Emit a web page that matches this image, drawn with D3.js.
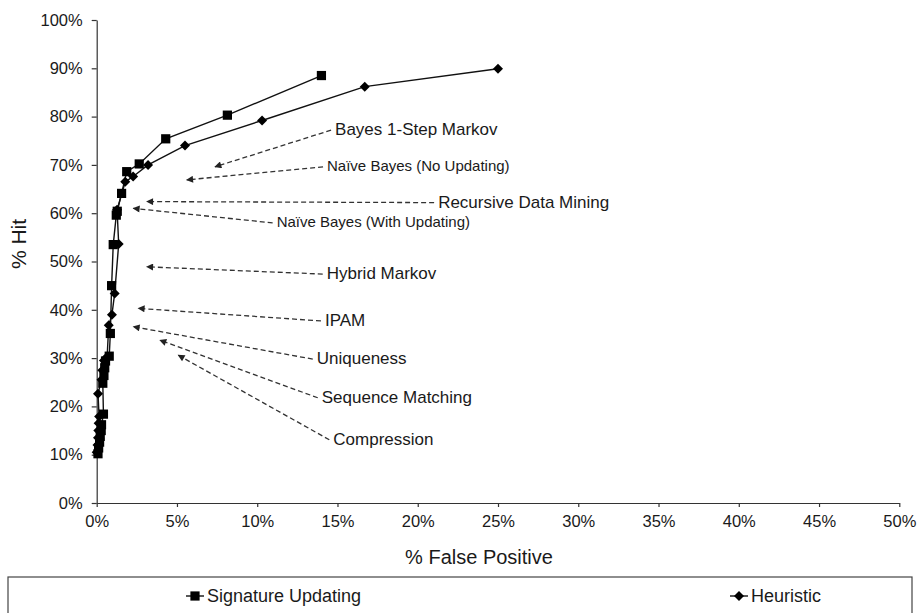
<!DOCTYPE html>
<html>
<head>
<meta charset="utf-8">
<script src="https://cdn.jsdelivr.net/npm/d3@7"></script>
<style>
  body { margin: 0; background: #fff; }
  svg text { font-family: "Liberation Sans", Arial, sans-serif; fill: #1a1a1a; }
</style>
</head>
<body>
<svg id="chart" width="918" height="613"></svg>
<script>
// % false positive / % hit
var sigX = [0.08, 0.12, 0.18, 0.22, 0.28, 0.30, 0.42, 0.38, 0.45, 0.50, 0.55, 0.78, 0.85, 0.93, 1.03, 1.22, 1.28, 1.55, 1.87, 2.65, 4.30, 8.14, 14.0];
var sigY = [10.2, 11.4, 12.6, 13.8, 15.0, 16.2, 18.4, 24.8, 26.4, 28.0, 29.4, 30.4, 35.1, 45.0, 53.5, 59.6, 60.4, 64.1, 68.6, 70.2, 75.4, 80.3, 88.5];

var heurX = [0.00, 0.05, 0.08, 0.10, 0.12, 0.15, 0.08, 0.30, 0.35, 0.45, 0.65, 0.75, 0.95, 1.12, 1.37, 1.27, 1.78, 2.27, 3.20, 5.50, 10.3, 16.7, 25.0];
var heurY = [10.5, 12.0, 13.5, 15.0, 16.5, 17.9, 22.6, 25.5, 27.5, 29.5, 30.3, 36.8, 39.0, 43.4, 53.6, 60.7, 66.5, 67.6, 70.0, 74.0, 79.2, 86.2, 89.9];

var seriesNames = ["Signature Updating", "Heuristic"];

var xTicks = [0, 5, 10, 15, 20, 25, 30, 35, 40, 45, 50];
var yTicks = [0, 10, 20, 30, 40, 50, 60, 70, 80, 90, 100];

// callouts: label, where the text sits, where the arrow points (data units)
var annoLabels = ["Bayes 1-Step Markov", "Naïve Bayes (No Updating)", "Recursive Data Mining", "Naïve Bayes (With Updating)", "Hybrid Markov", "IPAM", "Uniqueness", "Sequence Matching", "Compression"];
var annoTextX = [14.85, 14.35, 21.27, 11.21, 14.33, 14.22, 13.71, 14.02, 14.74];
var annoTextY = [77.4, 69.8, 62.4, 58.2, 47.6, 37.9, 30.0, 22.0, 13.3];
var annoTipX = [7.37, 5.61, 3.12, 2.28, 3.12, 2.59, 2.28, 3.94, 5.08];
var annoTipY = [69.6, 66.9, 62.4, 61.0, 48.9, 40.3, 36.5, 33.7, 30.6];

var dims = { left: 96.7, right: 899.3, top: 20, bottom: 503 };

var svg = d3.select("#chart");

var x = d3.scaleLinear().domain([0, 50]).range([dims.left, dims.right]);
var y = d3.scaleLinear().domain([0, 100]).range([dims.bottom, dims.top]);

// axes
var yAxis = svg.append("g")
    .attr("transform", `translate(${dims.left},0)`)
    .call(d3.axisLeft(y).tickValues(yTicks).tickSize(5).tickSizeOuter(0).tickPadding(9).tickFormat(d => d + "%"));
var xAxis = svg.append("g")
    .attr("transform", `translate(0,${dims.bottom})`)
    .call(d3.axisBottom(x).tickValues(xTicks).tickSize(4).tickSizeOuter(0).tickPadding(8).tickFormat(d => d + "%"));

[xAxis, yAxis].forEach(g => {
    g.selectAll("path, line").attr("stroke", "#333").attr("stroke-width", 1.2);
    g.selectAll("text").style("font-size", "16.5px").attr("fill", "#1a1a1a");
});

svg.append("text")
    .attr("transform", "translate(26,244) rotate(-90)")
    .attr("text-anchor", "middle")
    .style("font-size", "21px")
    .text("% Hit");

svg.append("text")
    .attr("x", 479)
    .attr("y", 564)
    .attr("text-anchor", "middle")
    .style("font-size", "20px")
    .text("% False Positive");

// series
var line = d3.line().x(d => x(d[0])).y(d => y(d[1]));
var sigPts = sigX.map((v, i) => [v, sigY[i]]);
var heurPts = heurX.map((v, i) => [v, heurY[i]]);

[sigPts, heurPts].forEach(pts => {
    svg.append("path")
        .attr("d", line(pts))
        .attr("fill", "none")
        .attr("stroke", "#111")
        .attr("stroke-width", 1.4);
});

// Excel style markers: filled square, and a square turned 45 degrees
var square = d3.symbol().type(d3.symbolSquare).size(85)();
var diamond = d3.symbol().type(d3.symbolSquare).size(50)();

svg.append("g").selectAll("path")
    .data(sigPts)
    .join("path")
    .attr("transform", d => `translate(${x(d[0])},${y(d[1])})`)
    .attr("d", square)
    .attr("fill", "#000");

svg.append("g").selectAll("path")
    .data(heurPts)
    .join("path")
    .attr("transform", d => `translate(${x(d[0])},${y(d[1])}) rotate(45)`)
    .attr("d", diamond)
    .attr("fill", "#000");

// callouts with dashed arrows
svg.append("defs").append("marker")
    .attr("id", "arrow")
    .attr("viewBox", "0 0 10 10")
    .attr("refX", 9).attr("refY", 5)
    .attr("markerWidth", 9).attr("markerHeight", 7)
    .attr("markerUnits", "userSpaceOnUse")
    .attr("orient", "auto")
    .append("path")
    .attr("d", "M0,0 L10,5 L0,10 z")
    .attr("fill", "#222");

var anno = svg.append("g");
annoLabels.forEach((label, i) => {
    var tx = x(annoTextX[i]), ty = y(annoTextY[i]);
    anno.append("line")
        .attr("x1", tx - 4).attr("y1", ty + 1)
        .attr("x2", x(annoTipX[i])).attr("y2", y(annoTipY[i]))
        .attr("stroke", "#333")
        .attr("stroke-width", 1.3)
        .attr("stroke-dasharray", "5,3")
        .attr("marker-end", "url(#arrow)");
    anno.append("text")
        .attr("x", tx)
        .attr("y", ty)
        .attr("dy", "0.35em")
        // the two Naive Bayes notes are set a little smaller in the original
        .style("font-size", label.startsWith("Naïve") ? "15px" : "17px")
        .text(label);
});

// legend
var legend = svg.append("g");
legend.append("rect")
    .attr("x", 8).attr("y", 577)
    .attr("width", 904).attr("height", 60)
    .attr("fill", "none")
    .attr("stroke", "#444")
    .attr("stroke-width", 1.2);

var legendX = [186, 730];
var legendRot = [0, 45];
var legendSyms = [square, diamond];
seriesNames.forEach((name, i) => {
    var lx = legendX[i], ly = 596;
    legend.append("line")
        .attr("x1", lx).attr("x2", lx + 18)
        .attr("y1", ly).attr("y2", ly)
        .attr("stroke", "#111").attr("stroke-width", 1.4);
    legend.append("path")
        .attr("transform", `translate(${lx + 9},${ly}) rotate(${legendRot[i]})`)
        .attr("d", legendSyms[i])
        .attr("fill", "#000");
    legend.append("text")
        .attr("x", lx + 21)
        .attr("y", ly)
        .attr("dy", "0.35em")
        .style("font-size", "18px")
        .text(name);
});
</script>
</body>
</html>
